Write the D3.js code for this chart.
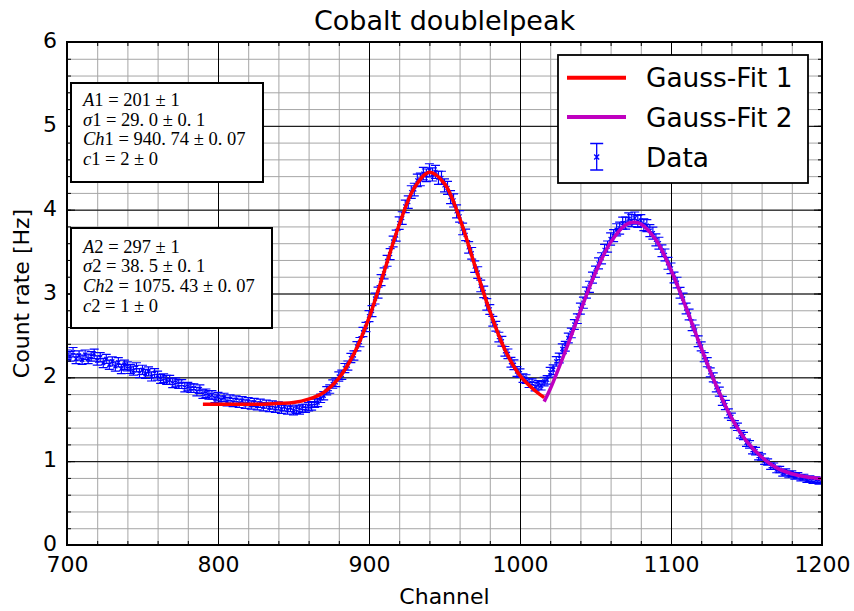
<!DOCTYPE html>
<html><head><meta charset="utf-8">
<script src="https://cdn.jsdelivr.net/npm/d3@7"></script>
<style>
body{margin:0;background:#fff}
svg{display:block}
text{font-family:"DejaVu Sans",sans-serif;fill:#000}
</style>
</head><body>
<svg id="c" width="854" height="611"></svg>
<script>
// ---------- data ----------
const channelStart = 700, channelStep = 2;
const countRate = [
 2.27,2.25,2.30,2.22,2.26,2.21,2.27,2.22,2.25,2.28,
 2.20,2.24,2.17,2.22,2.15,2.19,2.13,2.18,2.10,2.15,
 2.13,2.10,2.08,2.12,2.05,2.09,2.04,2.07,2.01,2.05,
 2.02,1.98,1.99,1.97,1.97,1.93,1.94,1.92,1.92,1.88,
 1.89,1.87,1.87,1.83,1.86,1.80,1.81,1.79,1.79,1.75,
 1.77,1.73,1.76,1.71,1.74,1.70,1.73,1.69,1.72,1.68,
 1.71,1.67,1.70,1.66,1.69,1.65,1.68,1.64,1.67,1.63,
 1.66,1.62,1.65,1.61,1.64,1.60,1.62,1.61,1.63,1.63,
 1.65,1.66,1.69,1.70,1.75,1.78,1.84,1.86,1.92,1.94,
 2.01,2.03,2.11,2.14,2.23,2.26,2.37,2.42,2.54,2.60,
 2.73,2.79,2.94,3.01,3.16,3.24,3.39,3.47,3.62,3.69,
 3.84,3.90,4.04,4.09,4.21,4.24,4.35,4.36,4.43,4.41,
 4.47,4.42,4.45,4.38,4.38,4.29,4.26,4.15,4.11,3.98,
 3.92,3.77,3.70,3.55,3.48,3.32,3.25,3.09,3.02,2.87,
 2.81,2.67,2.61,2.48,2.43,2.31,2.28,2.18,2.15,2.07,
 2.05,1.99,1.98,1.93,1.93,1.89,1.91,1.90,1.95,1.97,
 2.06,2.09,2.19,2.23,2.34,2.37,2.47,2.53,2.63,2.70,
 2.82,2.89,3.01,3.08,3.19,3.26,3.36,3.42,3.52,3.56,
 3.65,3.69,3.76,3.78,3.84,3.84,3.89,3.87,3.90,3.86,
 3.87,3.82,3.81,3.75,3.72,3.64,3.60,3.51,3.46,3.36,
 3.30,3.19,3.13,3.01,2.94,2.82,2.75,2.62,2.56,2.43,
 2.37,2.24,2.18,2.06,2.00,1.88,1.83,1.72,1.67,1.57,
 1.53,1.44,1.41,1.32,1.30,1.22,1.20,1.13,1.12,1.06,
 1.05,1.00,0.99,0.94,0.94,0.90,0.90,0.86,0.87,0.84,
 0.85,0.82,0.83,0.80,0.81,0.78,0.79,0.77,0.78,0.76,
 0.77
];
// one error value per block of 10 points (20 channels)
const rateErrorByBlock = [0.056,0.055,0.054,0.053,0.051,0.050,0.049,0.049,0.050,0.055,
 0.065,0.075,0.078,0.069,0.058,0.051,0.058,0.066,0.072,0.071,
 0.064,0.054,0.044,0.038,0.034,0.034];

const fit1Channels = [790,800,810,820,830,840,850,860,870,880,890,900,910,920,930,940,950,960,970,980,990,1000,1010,1016];
const fit1Values   = [1.68,1.68,1.68,1.68,1.68,1.69,1.70,1.74,1.82,1.99,2.28,2.71,3.26,3.82,4.26,4.445,4.31,3.90,3.34,2.79,2.33,2.02,1.84,1.76];
const fit2Channels = [1016,1020,1030,1040,1050,1060,1070,1075,1080,1090,1100,1110,1120,1130,1140,1150,1160,1170,1180,1190,1200];
const fit2Values   = [1.71,1.86,2.31,2.79,3.25,3.61,3.82,3.85,3.83,3.64,3.28,2.83,2.35,1.90,1.52,1.24,1.05,0.92,0.85,0.81,0.79];

const xTicks = [700,800,900,1000,1100,1200];
const yTicks = [0,1,2,3,4,5,6];
const xMinorTicks = d3.range(700,1201,20);
const yMinorTicks = d3.range(0,6.01,0.2).map(v=>+v.toFixed(1));

const titleText = "Cobalt doublelpeak";
const xLabel = "Channel";
const yLabel = "Count rate [Hz]";
const legendLabels = ["Gauss-Fit 1","Gauss-Fit 2","Data"];
// math boxes: segments [text, italic?]
const box1Lines = [
 [["A",1],["1 = 201 ± 1",0]],
 [["σ",1],["1 = 29. 0 ± 0. 1",0]],
 [["Ch",1],["1 = 940. 74 ± 0. 07",0]],
 [["c",1],["1 = 2 ± 0",0]]
];
const box2Lines = [
 [["A",1],["2 = 297 ± 1",0]],
 [["σ",1],["2 = 38. 5 ± 0. 1",0]],
 [["Ch",1],["2 = 1075. 43 ± 0. 07",0]],
 [["c",1],["2 = 1 ± 0",0]]
];

// ---------- drawing ----------
const svg = d3.select("#c");
const L=67, R=822, T=42, B=545;
const x = d3.scaleLinear().domain([700,1200]).range([L,R]);
const y = d3.scaleLinear().domain([0,6]).range([B,T]);

svg.append("rect").attr("width",854).attr("height",611).attr("fill","#fff");

function grid(axis, tr, color){
  const g = svg.append("g").attr("transform",tr).call(axis);
  g.select(".domain").remove();
  g.selectAll(".tick line").attr("stroke",color).attr("stroke-width",1);
  g.selectAll(".tick text").remove();
  return g;
}
grid(d3.axisBottom(x).tickValues(xMinorTicks).tickSize(-(B-T)), `translate(0,${B})`, "#a6a6a6");
grid(d3.axisLeft(y).tickValues(yMinorTicks).tickSize(-(R-L)), `translate(${L},0)`, "#a6a6a6");
grid(d3.axisBottom(x).tickValues(xTicks).tickSize(-(B-T)), `translate(0,${B})`, "#000");
grid(d3.axisLeft(y).tickValues(yTicks).tickSize(-(R-L)), `translate(${L},0)`, "#000");

// data with error bars
svg.append("clipPath").attr("id","clip").append("rect").attr("x",L).attr("y",T).attr("width",R-L).attr("height",B-T);
const pts = countRate.map((v,i)=>({c:channelStart+i*channelStep, v, e:rateErrorByBlock[Math.floor(i/10)]}));
const dg = svg.append("g").attr("clip-path","url(#clip)");
const cap=4.5, mk=2;
dg.selectAll("path.eb").data(pts).join("path").attr("class","eb")
  .attr("d",d=>{const px=x(d.c), y1=y(d.v-d.e), y2=y(d.v+d.e), py=y(d.v);
    return `M${px},${y1}V${y2}M${px-cap},${y1}H${px+cap}M${px-cap},${y2}H${px+cap}`+
           `M${px-mk},${py-mk}L${px+mk},${py+mk}M${px-mk},${py+mk}L${px+mk},${py-mk}`;})
  .attr("fill","none").attr("stroke","#0000ff").attr("stroke-width",1.2);

// fits
const line = d3.line().x(d=>x(d[0])).y(d=>y(d[1])).curve(d3.curveCatmullRom);
dg.append("path").attr("d",line(fit1Channels.map((c,i)=>[c,fit1Values[i]])))
  .attr("fill","none").attr("stroke","#ff0000").attr("stroke-width",3.5);
dg.append("path").attr("d",line(fit2Channels.map((c,i)=>[c,fit2Values[i]])))
  .attr("fill","none").attr("stroke","#bf00bf").attr("stroke-width",3.5);

// inward ticks on all sides
function ticks(axis,tr){
  const g=svg.append("g").attr("transform",tr).call(axis);
  g.select(".domain").remove(); g.selectAll(".tick text").remove();
  g.selectAll(".tick line").attr("stroke","#000");
}
ticks(d3.axisBottom(x).tickValues(xMinorTicks).tickSize(-4),`translate(0,${B})`);
ticks(d3.axisBottom(x).tickValues(xTicks).tickSize(-8),`translate(0,${B})`);
ticks(d3.axisTop(x).tickValues(xMinorTicks).tickSize(-4),`translate(0,${T})`);
ticks(d3.axisTop(x).tickValues(xTicks).tickSize(-8),`translate(0,${T})`);
ticks(d3.axisLeft(y).tickValues(yMinorTicks).tickSize(-4),`translate(${L},0)`);
ticks(d3.axisLeft(y).tickValues(yTicks).tickSize(-8),`translate(${L},0)`);
ticks(d3.axisRight(y).tickValues(yMinorTicks).tickSize(-4),`translate(${R},0)`);
ticks(d3.axisRight(y).tickValues(yTicks).tickSize(-8),`translate(${R},0)`);

// tick labels
const xl = svg.append("g").attr("transform",`translate(0,${B})`)
  .call(d3.axisBottom(x).tickValues(xTicks).tickSize(0).tickPadding(11).tickFormat(d3.format("d")));
xl.select(".domain").remove();
xl.selectAll("text").style("font-family","DejaVu Sans").style("font-size","22px").attr("fill","#000");
const yl = svg.append("g").attr("transform",`translate(${L},0)`)
  .call(d3.axisLeft(y).tickValues(yTicks).tickSize(0).tickPadding(10).tickFormat(d3.format("d")));
yl.select(".domain").remove();
yl.selectAll("text").style("font-family","DejaVu Sans").style("font-size","22px").attr("fill","#000")
  .attr("dy","0.25em");

// frame
svg.append("rect").attr("x",L).attr("y",T).attr("width",R-L).attr("height",B-T)
  .attr("fill","none").attr("stroke","#000").attr("stroke-width",2);

// titles
svg.append("text").attr("x",(L+R)/2).attr("y",30).attr("text-anchor","middle")
  .style("font-size","27px").text(titleText);
svg.append("text").attr("x",(L+R)/2).attr("y",604).attr("text-anchor","middle")
  .style("font-size","22px").text(xLabel);
svg.append("text").attr("transform",`translate(29,${(T+B)/2}) rotate(-90)`).attr("text-anchor","middle")
  .style("font-size","22px").text(yLabel);

// math boxes
function mathBox(lines, bx, by, bw, bh, base0){
  svg.append("rect").attr("x",bx).attr("y",by).attr("width",bw).attr("height",bh)
    .attr("fill","#fff").attr("stroke","#000").attr("stroke-width",2);
  lines.forEach((segs,i)=>{
    const t = svg.append("text").attr("x",bx+12).attr("y",base0+i*19.7)
      .style("font-family","'Liberation Serif','DejaVu Serif',serif").style("font-size","18.5px");
    segs.forEach(s=>t.append("tspan").style("font-style",s[1]?"italic":"normal").text(s[0]));
  });
}
mathBox(box1Lines, 71, 83, 192, 99, 106);
mathBox(box2Lines, 71, 228, 201, 100, 252.5);

// legend
const lg = svg.append("g");
lg.append("rect").attr("x",558).attr("y",55).attr("width",250).attr("height",128)
  .attr("fill","#fff").attr("stroke","#000").attr("stroke-width",1.8);
const lys=[77.7,117,157];
lg.append("line").attr("x1",567).attr("x2",626).attr("y1",lys[0]).attr("y2",lys[0]).attr("stroke","#ff0000").attr("stroke-width",4);
lg.append("line").attr("x1",567).attr("x2",626).attr("y1",lys[1]).attr("y2",lys[1]).attr("stroke","#bf00bf").attr("stroke-width",4);
const hx=596.7, ht=143.5, hb=170;
lg.append("path").attr("d",`M${hx},${ht}V${hb}M${hx-6.5},${ht}H${hx+6.5}M${hx-6.5},${hb}H${hx+6.5}M${hx-2.5},${lys[2]-2.5}L${hx+2.5},${lys[2]+2.5}M${hx-2.5},${lys[2]+2.5}L${hx+2.5},${lys[2]-2.5}`)
  .attr("fill","none").attr("stroke","#0000ff").attr("stroke-width",1.3);
legendLabels.forEach((l,i)=>lg.append("text").attr("x",646).attr("y",lys[i]+9.5)
  .style("font-size","26.4px").text(l));
</script>
</body></html>
